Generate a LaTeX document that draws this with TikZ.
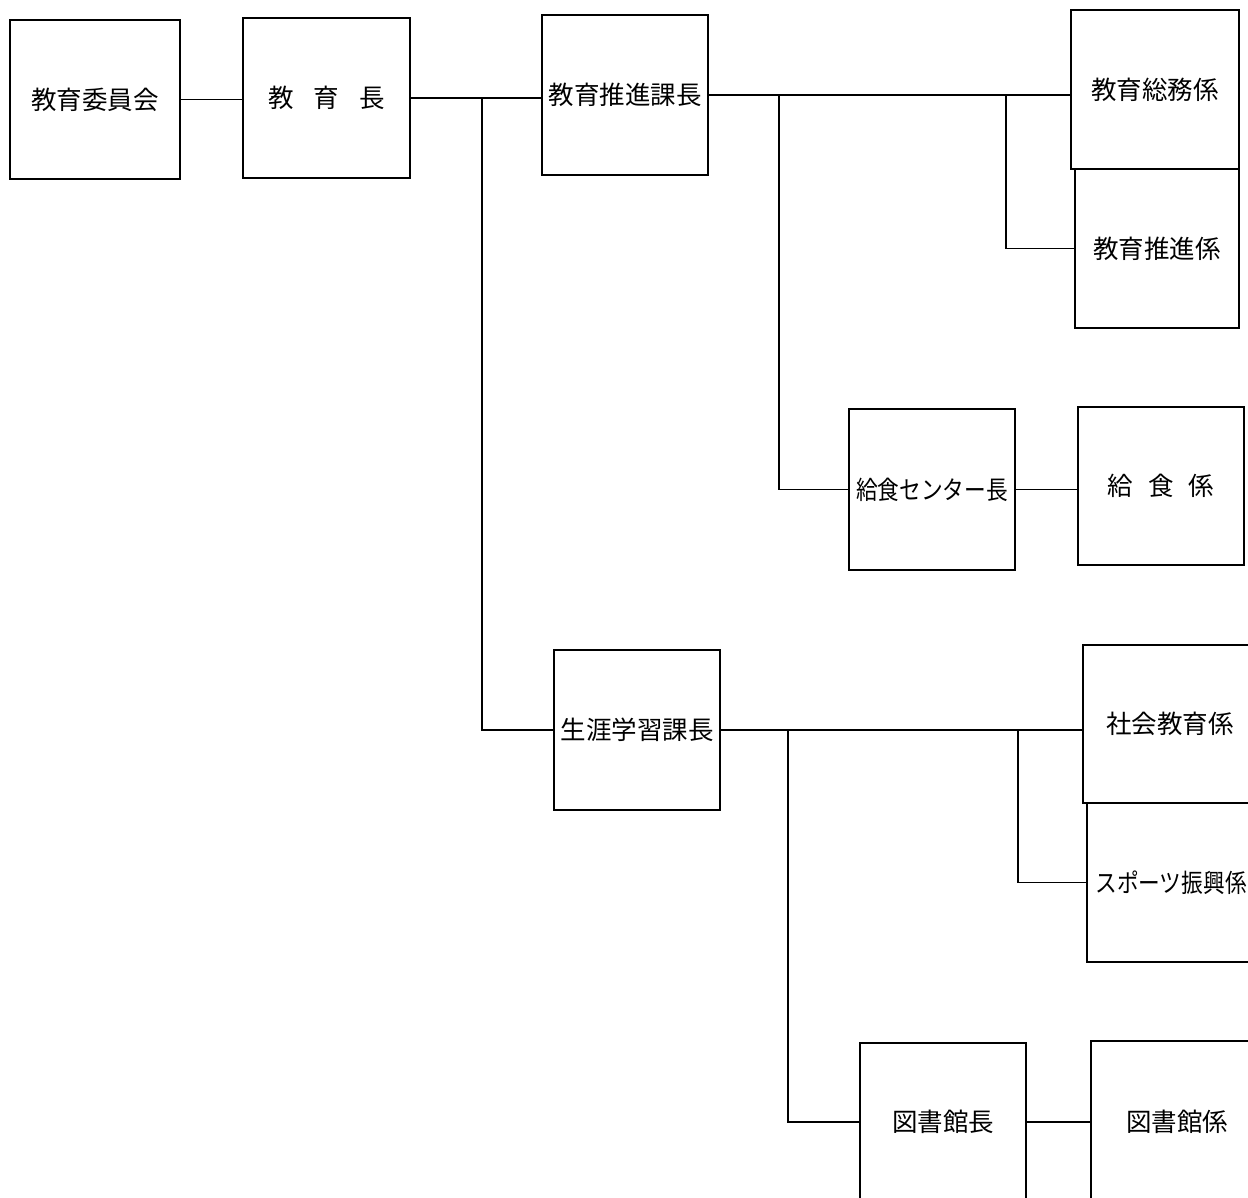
\documentclass[tikz,border=0pt]{standalone}
\usepackage{fontspec}
\usepackage{graphicx}
\setmainfont{Noto Sans CJK JP}
\begin{document}
\begin{tikzpicture}[x=1pt,y=-1pt,
  box/.style={draw=black, line width=1.7pt, inner sep=0pt, align=center,
    font=\fontsize{25.5}{29}\selectfont},
  conn/.style={draw=black, line width=1.6pt}]
\useasboundingbox (0,0) rectangle (1248,1198);
\fill[white] (0,0) rectangle (1248,1198);
% boxes
\node[box, minimum width=170pt, minimum height=159pt] (iinkai) at (95,99.5) {教育委員会};
\node[box, minimum width=167pt, minimum height=160pt] (kyoikucho) at (326.5,98) {教\hspace{20pt}育\hspace{20pt}長};
\node[box, minimum width=166pt, minimum height=160pt] (suishinka) at (625,95) {教育推進課長};
\node[box, minimum width=168pt, minimum height=159pt] (somu) at (1155,89.5) {教育総務係};
\node[box, minimum width=164pt, minimum height=159pt] (suishin) at (1157,248.5) {教育推進係};
\node[box, minimum width=166pt, minimum height=161pt] (center) at (932,489.5) {\scalebox{0.85}[1]{給食センター長}};
\node[box, minimum width=166pt, minimum height=158pt] (kyushoku) at (1161,486) {給\hspace{15pt}食\hspace{15pt}係};
\node[box, minimum width=166pt, minimum height=160pt] (shogai) at (637,730) {生涯学習課長};
\node[box, minimum width=174pt, minimum height=158pt] (shakai) at (1170,724) {社会教育係};
\node[box, minimum width=168pt, minimum height=159pt] (sports) at (1171,882.5) {\scalebox{0.85}[1]{スポーツ振興係}};
\node[box, minimum width=166pt, minimum height=158pt] (toshokancho) at (943,1122) {図書館長};
\node[box, minimum width=172pt, minimum height=162pt] (toshokan) at (1177,1122) {図書館係};
% junctions
\coordinate (j1) at (482,98);
\coordinate (j2) at (779,95);
\coordinate (j3) at (1006,95);
\coordinate (j4) at (788,729);
\coordinate (j5) at (1018,729);
% connectors
\draw[conn] (iinkai.east) -- (iinkai.east -| kyoikucho.west);
\draw[conn] (kyoikucho.east) -- (kyoikucho.east -| suishinka.west);
\draw[conn] (j1) |- (shogai.west);
\draw[conn] (suishinka.east) -- (suishinka.east -| somu.west);
\draw[conn] (j2) |- (center.west);
\draw[conn] (j3) |- (suishin.west);
\draw[conn] (center.east) -- (center.east -| kyushoku.west);
\draw[conn] (shogai.east) -- (shogai.east -| shakai.west);
\draw[conn] (j4) |- (toshokancho.west);
\draw[conn] (j5) |- (sports.west);
\draw[conn] (toshokancho.east) -- (toshokancho.east -| toshokan.west);
\end{tikzpicture}
\end{document}
